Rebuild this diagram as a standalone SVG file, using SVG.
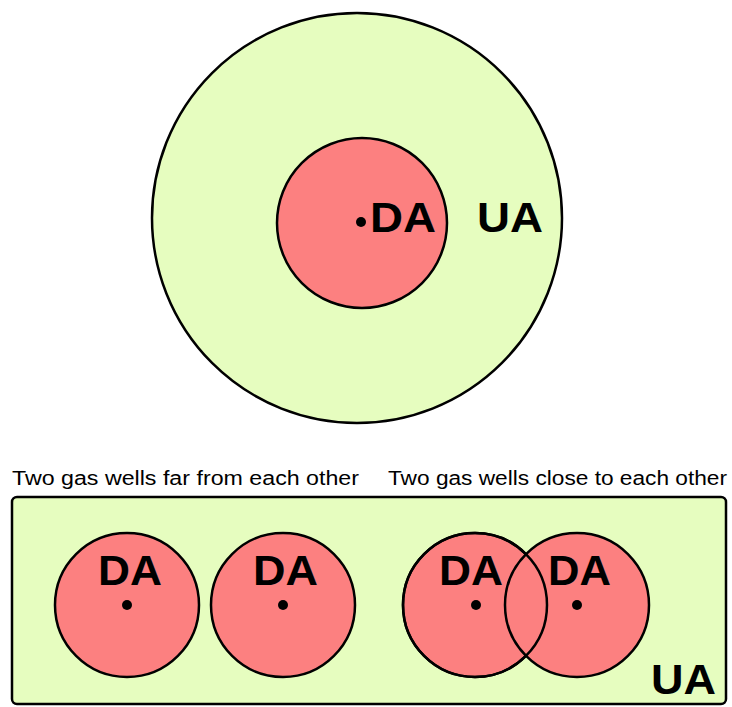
<svg xmlns="http://www.w3.org/2000/svg" width="732" height="707" viewBox="0 0 732 707">
<style>
.ua{fill:#E6FDBF;stroke:#000;stroke-width:2.5}
.da{fill:#FC8080;stroke:#000;stroke-width:2.5}
.dot{fill:#000}
.lbl{font-family:"Liberation Sans",Arial,sans-serif;font-weight:bold;font-size:42px;fill:#000}
.cap{font-family:"Liberation Sans",Arial,sans-serif;font-size:20px;fill:#000}
</style>
<rect width="732" height="707" fill="#fff"/>
<g id="top-ua">
<circle class="ua" cx="357" cy="218" r="205"/>
<text class="lbl" x="477" y="232" textLength="66" lengthAdjust="spacingAndGlyphs">UA</text>
</g>
<g id="top-da">
<circle class="da" cx="362" cy="223" r="85"/>
<circle class="dot" cx="361" cy="222" r="5"/>
<text class="lbl" x="370" y="232" textLength="66" lengthAdjust="spacingAndGlyphs">DA</text>
</g>
<text class="cap" x="12" y="485" textLength="347" lengthAdjust="spacingAndGlyphs">Two gas wells far from each other</text>
<text class="cap" x="388" y="485" textLength="339" lengthAdjust="spacingAndGlyphs">Two gas wells close to each other</text>
<g id="bottom-ua">
<rect class="ua" x="12" y="497" width="714" height="207" rx="5"/>
<text class="lbl" x="651" y="694" textLength="65" lengthAdjust="spacingAndGlyphs">UA</text>
</g>
<g id="da1">
<circle class="da" cx="127" cy="605" r="72"/>
<circle class="dot" cx="127" cy="605" r="5"/>
<text class="lbl" x="98" y="585" textLength="64" lengthAdjust="spacingAndGlyphs">DA</text>
</g>
<g id="da2">
<circle class="da" cx="283" cy="605" r="72"/>
<circle class="dot" cx="283" cy="605" r="5"/>
<text class="lbl" x="253" y="585" textLength="65" lengthAdjust="spacingAndGlyphs">DA</text>
</g>
<g id="da3">
<circle class="da" cx="475" cy="605" r="72"/>
<circle class="dot" cx="476" cy="605" r="5"/>
<text class="lbl" x="439" y="585" textLength="64" lengthAdjust="spacingAndGlyphs">DA</text>
</g>
<g id="da4">
<circle class="da" cx="577" cy="605" r="72"/>
<circle class="dot" cx="577" cy="605" r="5"/>
<text class="lbl" x="548" y="585" textLength="63" lengthAdjust="spacingAndGlyphs">DA</text>
</g>
<g id="da3-outline"><circle cx="475" cy="605" r="72" fill="none" stroke="#000" stroke-width="2.5"/></g>
</svg>
